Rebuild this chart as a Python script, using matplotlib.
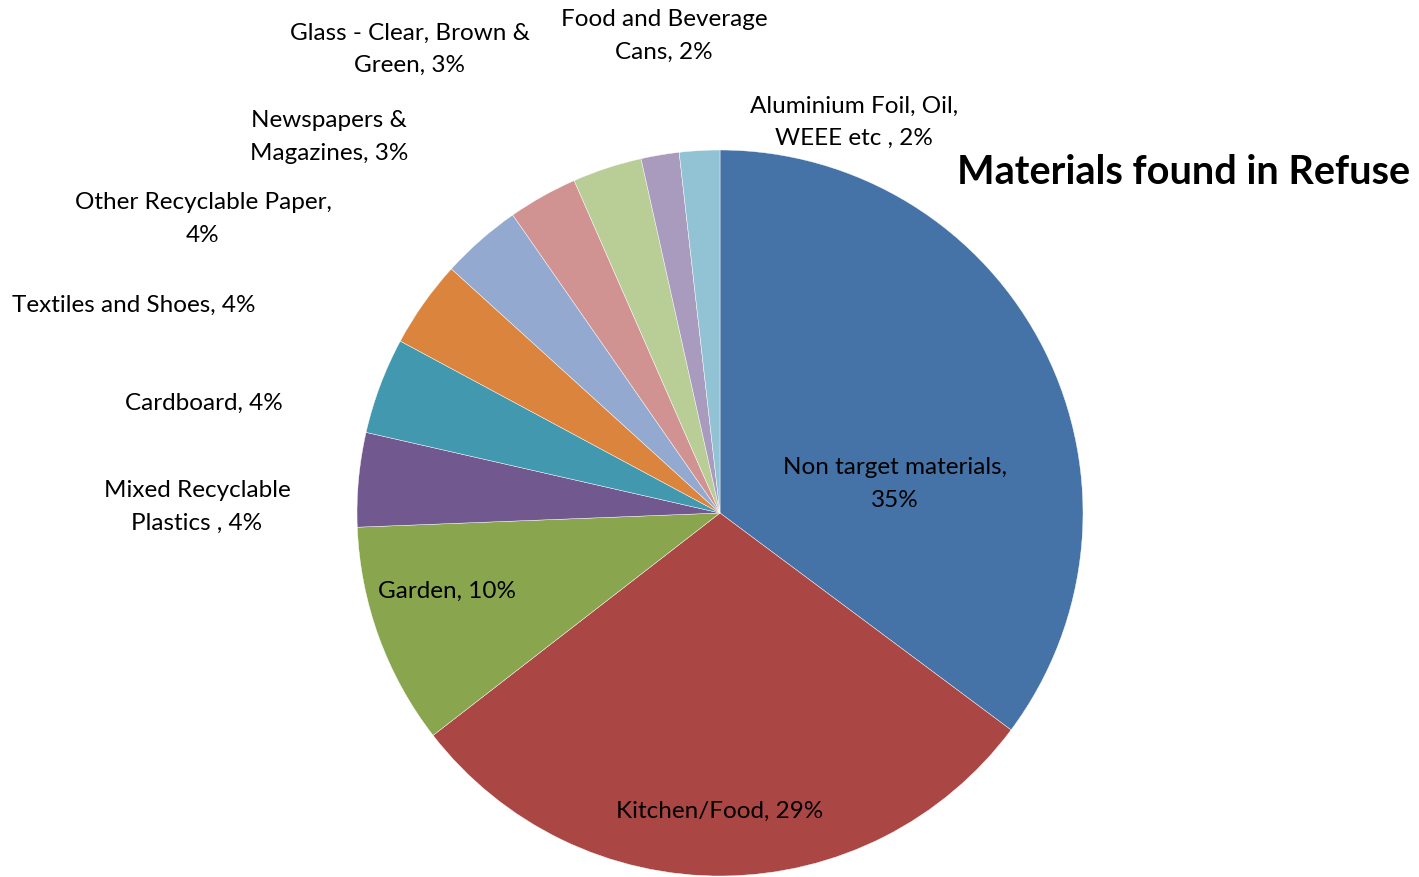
import matplotlib
matplotlib.use("Agg")
from matplotlib import pyplot as plt

# slices, clockwise from 12 o'clock
templates = ["Non target materials,\n{}%",
             "Kitchen/Food, {}%",
             "Garden, {}%",
             "Mixed Recyclable\nPlastics , {}%",
             "Cardboard, {}%",
             "Textiles and Shoes, {}%",
             "Other Recyclable Paper,\n{}%",
             "Newspapers &\nMagazines, {}%",
             "Glass - Clear, Brown &\nGreen, {}%",
             "Food and Beverage\nCans, {}%",
             "Aluminium Foil, Oil,\nWEEE etc , {}%"]
shares = [35.3, 29.4, 9.9, 4.2, 4.3, 3.9, 3.6, 3.1, 3.1, 1.7, 1.8]
colors = ["#4572A7", "#AA4643", "#89A54E", "#71588F", "#4198AF", "#DB843D",
          "#93A9CF", "#D19392", "#B9CD96", "#A99BBD", "#92C3D4"]

# label centres in pixels (x from left, y from top)
label_pos = [(895, 484), (720, 811), (447, 591), (197, 507), (204, 403),
             (134, 305), (203, 219), (329, 137), (410, 49), (664, 36), (854, 122)]

W, H = 1419, 877
fig = plt.figure(figsize=(W / 100, H / 100), dpi=100)
ax = fig.add_axes([0, 0, 1, 1])

ax.pie(shares, colors=colors, startangle=90, counterclock=False,
       center=(720, H - 513), radius=363, frame=True,
       wedgeprops=dict(linewidth=0.3, edgecolor="white"))
ax.set_xlim(0, W)
ax.set_ylim(0, H)
ax.set_aspect("equal")
ax.axis("off")

for tpl, v, (x, y) in zip(templates, shares, label_pos):
    ax.text(x, H - y, tpl.format(round(v)), ha="center", va="center",
            fontsize=17.5, family="Lato", linespacing=1.65)

ax.text(1410, H - 173, "Materials found in Refuse", ha="right", va="center",
        fontsize=28.5, fontweight="bold", family="Lato")

fig.savefig("out.png", dpi=100)
